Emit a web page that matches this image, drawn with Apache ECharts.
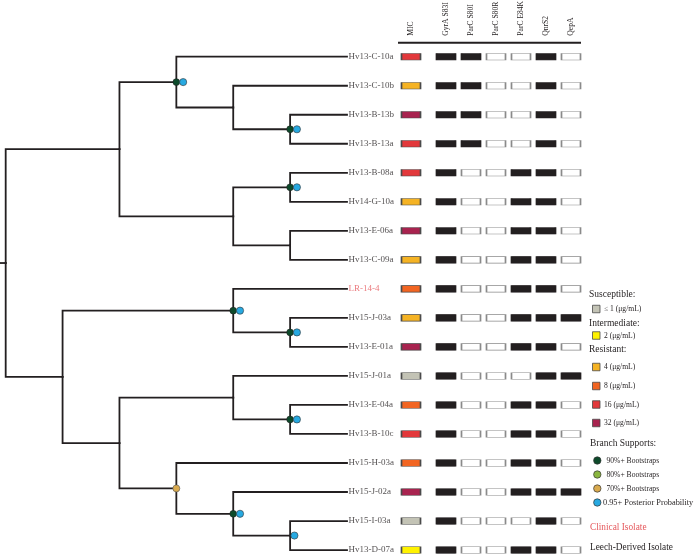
<!DOCTYPE html>
<html><head><meta charset="utf-8">
<script src="https://cdn.jsdelivr.net/npm/echarts@6/dist/echarts.min.js"></script>
<style>html,body{margin:0;padding:0;background:#fff}#chart{width:696px;height:556px}</style>
</head><body><div id="chart"></div>
<script>
// ---------------- data ----------------
// tree topology (cladogram) with support annotations: B90/B80/B70 = bootstrap class, P = 0.95+ posterior probability
const newick = "(((Hv13-C-10a,(Hv13-C-10b,(Hv13-B-13b,Hv13-B-13a)B90P))B90P,((Hv13-B-08a,Hv14-G-10a)B90P,(Hv13-E-06a,Hv13-C-09a))),((LR-14-4,(Hv15-J-03a,Hv13-E-01a)B90P)B90P,((Hv15-J-01a,(Hv13-E-04a,Hv13-B-10c)B90P),(Hv15-H-03a,(Hv15-J-02a,(Hv15-I-03a,Hv13-D-07a)P)B90P)B70)));";
const leafNames = ['Hv13-C-10a','Hv13-C-10b','Hv13-B-13b','Hv13-B-13a','Hv13-B-08a','Hv14-G-10a','Hv13-E-06a','Hv13-C-09a','LR-14-4','Hv15-J-03a','Hv13-E-01a','Hv15-J-01a','Hv13-E-04a','Hv13-B-10c','Hv15-H-03a','Hv15-J-02a','Hv15-I-03a','Hv13-D-07a'];
const clinicalIsolates = ['LR-14-4'];
const micValues = ['16','4','32','16','16','4','32','4','8','4','32','≤1','8','16','8','32','≤1','2'];
const geneColumns = ['GyrA S83I','ParC S80I','ParC S80R','ParC E84K','QnrS2','QepA'];
const gyrA_S83I = [1,1,1,1,1,1,1,1,1,1,1,1,1,1,1,1,1,1];
const parC_S80I = [1,1,1,1,0,0,0,0,0,0,0,0,0,0,0,0,0,0];
const parC_S80R = [0,0,0,0,0,0,0,0,0,0,0,0,0,0,0,0,0,0];
const parC_E84K = [0,0,0,0,1,1,1,1,1,1,1,0,1,1,1,1,0,1];
const qnrS2     = [1,1,1,1,1,1,1,1,1,1,1,1,1,1,1,1,1,1];
const qepA      = [0,0,0,0,0,0,0,0,0,1,0,1,0,0,0,1,0,0];
const micLevels = ['≤1','2','4','8','16','32'];
const micLegendLabels = ['≤ 1 (μg/mL)','2 (μg/mL)','4 (μg/mL)','8 (μg/mL)','16 (μg/mL)','32 (μg/mL)'];
const supportLabels = ['90%+ Bootstraps','80%+ Bootstraps','70%+ Bootstraps','0.95+ Posterior Probability'];

// ---------------- styles ----------------
const micColors = ['#c3c3b5','#fff200','#f5b324','#f26522','#e2383b','#a8234f'];
const supportColors = ['#0d4a2b','#8ab63f','#d9aa4e','#27a9e1'];
const INK = '#231f20';
const CLIN = '#e5585c';
const SERIF = '"Liberation Serif","Times New Roman",serif';

// ---------------- tree layout from topology ----------------
function parseNewick(s){
  let i = 0;
  function node(){
    const n = {children:[], name:'', label:''};
    if (s[i] === '('){
      i++;
      n.children.push(node());
      while (s[i] === ','){ i++; n.children.push(node()); }
      i++;
      let lab=''; while (i < s.length && !',();'.includes(s[i])) lab += s[i++];
      n.label = lab;
    } else {
      let nm=''; while (i < s.length && !',();'.includes(s[i])) nm += s[i++];
      n.name = nm;
    }
    return n;
  }
  return node();
}
const root = parseNewick(newick);
function height(n){ n.h = n.children.length ? 1 + Math.max(...n.children.map(height)) : 0; return n.h; }
const H = height(root);
function place(n){
  n.x = H - n.h;
  if (!n.children.length){ n.y = leafNames.indexOf(n.name); }
  else { n.children.forEach(place); n.y = (n.children[0].y + n.children[n.children.length-1].y)/2; }
}
place(root);
const X_MIN = -0.1;
const edges = [[X_MIN, root.y, root.x, root.y]];
const boot90 = [], boot80 = [], boot70 = [], ppWithBoot = [], ppAlone = [];
(function walk(n){
  n.children.forEach(c => { edges.push([n.x, n.y, c.x, c.y]); walk(c); });
  if (n.label){
    const hasB = /B\d+/.test(n.label);
    if (n.label.includes('B90')) boot90.push([n.x, n.y]);
    if (n.label.includes('B80')) boot80.push([n.x, n.y]);
    if (n.label.includes('B70')) boot70.push([n.x, n.y]);
    if (n.label.includes('P')) (hasB ? ppWithBoot : ppAlone).push([n.x, n.y]);
  }
})(root);
const leafLabelData = leafNames.map((nm, i) => ({value:[H, i], name:nm,
  label:{color: clinicalIsolates.includes(nm) ? CLIN : INK}}));

// ---------------- matrix data ----------------
const micData = leafNames.map((nm, i) => ({value:['MIC', i], itemStyle:{color: micColors[micLevels.indexOf(micValues[i])]}}));
const geneArrays = [gyrA_S83I, parC_S80I, parC_S80R, parC_E84K, qnrS2, qepA];
const present = [], absent = [];
geneArrays.forEach((arr, c) => arr.forEach((v, r) => (v ? present : absent).push([geneColumns[c], r])));

// ---------------- chart ----------------
const TOP = 42.2, ROW = 29.02, HGT = 556 - TOP;
const Y_MIN = -0.5, Y_MAX = Y_MIN + HGT / ROW;
const chart = echarts.init(document.getElementById('chart'), null, {renderer:'canvas'});

const legendGraphics = [];
function gText(t, x, y, size, color){
  legendGraphics.push({type:'text', style:{text:t, x:x, y:y, font: size+'px '+SERIF, fill: color || INK, verticalAlign:'middle'}});
}
function gBox(x, y, color){
  legendGraphics.push({type:'rect', shape:{x:x, y:y-3.75, width:7.5, height:7.5}, style:{fill:color, stroke:'#4a4a4a', lineWidth:0.8}});
}
function gDot(x, y, color){
  legendGraphics.push({type:'circle', shape:{cx:x, cy:y, r:3.7}, style:{fill:color, stroke:'#333', lineWidth:0.7}});
}
gText('Susceptible:', 589, 294.5, 9.5);
gBox(592.5, 309, micColors[0]); gText(micLegendLabels[0], 604, 309, 7.6);
gText('Intermediate:', 589, 323, 9.5);
gBox(592.5, 335.5, micColors[1]); gText(micLegendLabels[1], 604, 335.5, 7.6);
gText('Resistant:', 589, 349, 9.5);
[367, 386, 404.5, 423].forEach((y, k) => { gBox(592.5, y, micColors[k+2]); gText(micLegendLabels[k+2], 604, y, 7.6); });
gText('Branch Supports:', 590, 443.5, 9.5);
[460.5, 474.5, 488.5, 502.5].forEach((y, k) => { gDot(597.3, y, supportColors[k]); gText(supportLabels[k], k === 3 ? 603 : 606.5, y, k === 3 ? 8.3 : 7.6); });
gText('Clinical Isolate', 590, 528, 9.3, CLIN);
gText('Leech-Derived Isolate', 590, 547.5, 9.3, INK);
legendGraphics.push({type:'line', shape:{x1:398, y1:42.7, x2:581, y2:42.7}, style:{stroke:INK, lineWidth:2}});

const boxSym = [19, 6.5];
const gridBase = {top:TOP, height:HGT, outerBoundsMode:'none', containLabel:false};
const yBase = {type:'value', min:Y_MIN, max:Y_MAX, inverse:true, show:false};
const option = {
  animation:false,
  backgroundColor:'#fff',
  grid:[
    Object.assign({left:0, width:347}, gridBase),
    Object.assign({left:398.5, width:25}, gridBase),
    Object.assign({left:433.5, width:150}, gridBase)
  ],
  xAxis:[
    {gridIndex:0, type:'value', min:X_MIN, max:H, show:false},
    {gridIndex:1, type:'category', data:['MIC'], position:'top', axisLine:{show:false}, axisTick:{show:false}, splitLine:{show:false},
      axisLabel:{rotate:90, fontSize:7.6, fontFamily:SERIF, color:INK, margin:6.5}},
    {gridIndex:2, type:'category', data:geneColumns, position:'top', axisLine:{show:false}, axisTick:{show:false}, splitLine:{show:false},
      axisLabel:{rotate:90, fontSize:7.6, fontFamily:SERIF, color:INK, margin:6.5, interval:0}}
  ],
  yAxis:[
    Object.assign({gridIndex:0}, yBase),
    Object.assign({gridIndex:1}, yBase),
    Object.assign({gridIndex:2}, yBase)
  ],
  graphic: legendGraphics,
  series:[
    {type:'custom', xAxisIndex:0, yAxisIndex:0, encode:{x:[0,2], y:[1,3]}, data:edges, silent:true,
      renderItem:(params, api) => {
        const p1 = api.coord([api.value(0), api.value(1)]);
        const p2 = api.coord([api.value(0), api.value(3)]);
        const p3 = api.coord([api.value(2), api.value(3)]);
        return {type:'polyline', shape:{points:[p1,p2,p3]}, style:{stroke:INK, lineWidth:1.8, fill:null, lineJoin:'miter', lineCap:'square'}};
      }},
    {type:'scatter', xAxisIndex:0, yAxisIndex:0, data:leafLabelData, symbolSize:0, silent:true,
      label:{show:true, position:'right', distance:1.5, formatter:(p) => p.name, fontSize:9, fontFamily:SERIF}},
    {type:'scatter', xAxisIndex:0, yAxisIndex:0, data:boot90, symbol:'circle', symbolSize:6.8, itemStyle:{opacity:1, color:supportColors[0], borderColor:'#222', borderWidth:0.6}, z:3},
    {type:'scatter', xAxisIndex:0, yAxisIndex:0, data:boot80, symbol:'circle', symbolSize:7, itemStyle:{opacity:1, color:supportColors[1], borderColor:'#333', borderWidth:0.6}, z:3},
    {type:'scatter', xAxisIndex:0, yAxisIndex:0, data:boot70, symbol:'circle', symbolSize:7, itemStyle:{opacity:1, color:supportColors[2], borderColor:'#555', borderWidth:0.6}, z:3},
    {type:'scatter', xAxisIndex:0, yAxisIndex:0, data:ppWithBoot, symbol:'circle', symbolSize:7.2, symbolOffset:[6.8,0], itemStyle:{opacity:1, color:supportColors[3], borderColor:'#333', borderWidth:0.6}, z:4},
    {type:'scatter', xAxisIndex:0, yAxisIndex:0, data:ppAlone, symbol:'circle', symbolSize:7.2, symbolOffset:[4.3,0], itemStyle:{opacity:1, color:supportColors[3], borderColor:'#333', borderWidth:0.6}, z:4},
    {type:'scatter', xAxisIndex:1, yAxisIndex:1, data:micData, symbol:'rect', symbolSize:boxSym, itemStyle:{opacity:1, borderColor:'#4a4a4a', borderWidth:1}},
    {type:'scatter', xAxisIndex:2, yAxisIndex:2, data:present, symbol:'rect', symbolSize:boxSym, itemStyle:{opacity:1, color:INK, borderColor:INK, borderWidth:1}},
    {type:'scatter', xAxisIndex:2, yAxisIndex:2, data:absent, symbol:'rect', symbolSize:boxSym, itemStyle:{opacity:1, color:'#fff', borderColor:'#8a8a8a', borderWidth:1}}
  ]
};
chart.setOption(option);
</script>
</body></html>
